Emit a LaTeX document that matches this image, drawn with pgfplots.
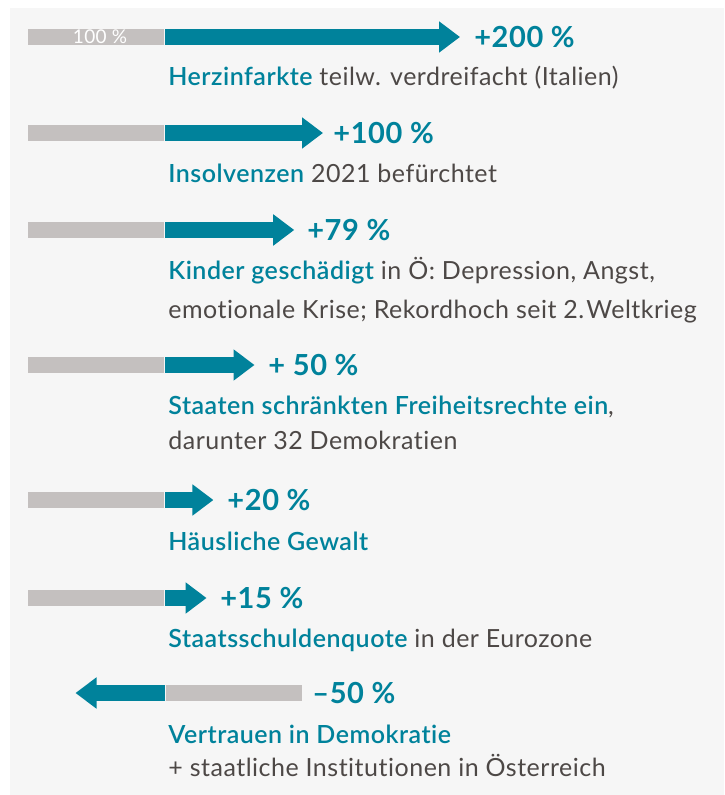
\documentclass[border=0pt]{standalone}
\usepackage{pgfplots}
\pgfplotsset{compat=1.18}
\usetikzlibrary{arrows.meta}
\usepackage{fontspec}
\setmainfont{Lato}[LetterSpace=2, BoldFont={Lato Semibold}, Ligatures=CommonOff]
\newfontfamily\labfont{Lato}[LetterSpace=2, Ligatures=CommonOff]
\definecolor{tealc}{HTML}{00829B}
\definecolor{barg}{HTML}{C4C0BF}
\definecolor{txtg}{HTML}{4D4846}
\definecolor{panel}{HTML}{F6F6F6}
\newcommand{\hl}[1]{\textbf{\color{tealc}#1}}
\tikzset{
  gbar/.style={barg, line width=8pt, mark=none},
  tarr/.style={tealc, line width=8pt, mark=none, -{Triangle[width=15pt,length=10.5pt]}, shorten >=-10.5pt},
  plab/.style={anchor=west, inner sep=0pt, text=tealc, font=\labfont\fontsize{14.5}{16}\selectfont\bfseries},
  desc/.style={anchor=base west, inner sep=0pt, text=txtg, font=\fontsize{12.5}{14}\selectfont},
}
\begin{document}
\begin{tikzpicture}
\begin{axis}[
  width=362pt, height=397.5pt, scale only axis,
  xmin=-120.438, xmax=408.029, ymin=0, ymax=795, y dir=reverse,
  hide axis, clip=false,
]
\fill[white] (axis cs:-120.438,0) rectangle (axis cs:408.029,795);
\fill[panel] (axis cs:-113.1,8) rectangle (axis cs:408.029,795);
% baselines (gray, 100 %)
\addplot[gbar] coordinates {(-100,37) (-0.4,37)};
\addplot[gbar] coordinates {(-100,133) (-0.4,133)};
\addplot[gbar] coordinates {(-100,230) (-0.4,230)};
\addplot[gbar] coordinates {(-100,365) (-0.4,365)};
\addplot[gbar] coordinates {(-100,500) (-0.4,500)};
\addplot[gbar] coordinates {(-100,598) (-0.4,598)};
\addplot[gbar] coordinates {(0.4,693) (100,693)};
% changes
\addplot[tarr] coordinates {(0,37) (200,37)};
\addplot[tarr] coordinates {(0,133) (100,133)};
\addplot[tarr] coordinates {(0,230) (79,230)};
\addplot[tarr] coordinates {(0,365) (50,365)};
\addplot[tarr] coordinates {(0,500) (20,500)};
\addplot[tarr] coordinates {(0,598) (15,598)};
\addplot[tarr] coordinates {(0,693) (-50,693)};
\node[anchor=center, text=white, font=\fontsize{9.5}{10}\selectfont] at (axis cs:-47.4,37) {100 \%};
% percent labels
\node[plab] at (axis cs:225.5,37) {+200 \%};
\node[plab] at (axis cs:122.6,133) {+100 \%};
\node[plab] at (axis cs:103.6,230) {+79 \%};
\node[plab] at (axis cs:75.2,365) {+ 50 \%};
\node[plab] at (axis cs:45.3,500) {+20 \%};
\node[plab] at (axis cs:40.1,598) {+15 \%};
\node[plab] at (axis cs:107.3,693) {–50 \%};
% descriptions
\node[desc] at (axis cs:2.19,86) {\hl{Herzinfarkte} teilw. verdreifacht (Italien)};
\node[desc] at (axis cs:2.19,183) {\hl{Insolvenzen} 2021 befürchtet};
\node[desc] at (axis cs:2.19,280) {\hl{Kinder geschädigt} in Ö: Depression, Angst,};
\node[desc] at (axis cs:2.19,319) {emotionale Krise; Rekordhoch seit 2.\hspace{1pt}Weltkrieg};
\node[desc] at (axis cs:2.19,415) {\hl{Staaten schränkten Freiheitsrechte ein},};
\node[desc] at (axis cs:2.19,449) {darunter 32 Demokratien};
\node[desc] at (axis cs:2.19,550) {\hl{Häusliche Gewalt}};
\node[desc] at (axis cs:2.19,647) {\hl{Staatsschuldenquote} in der Eurozone};
\node[desc] at (axis cs:2.19,743) {\hl{Vertrauen in Demokratie}};
\node[desc] at (axis cs:2.19,776) {+ staatliche Institutionen in Österreich};
\end{axis}
\end{tikzpicture}
\end{document}
